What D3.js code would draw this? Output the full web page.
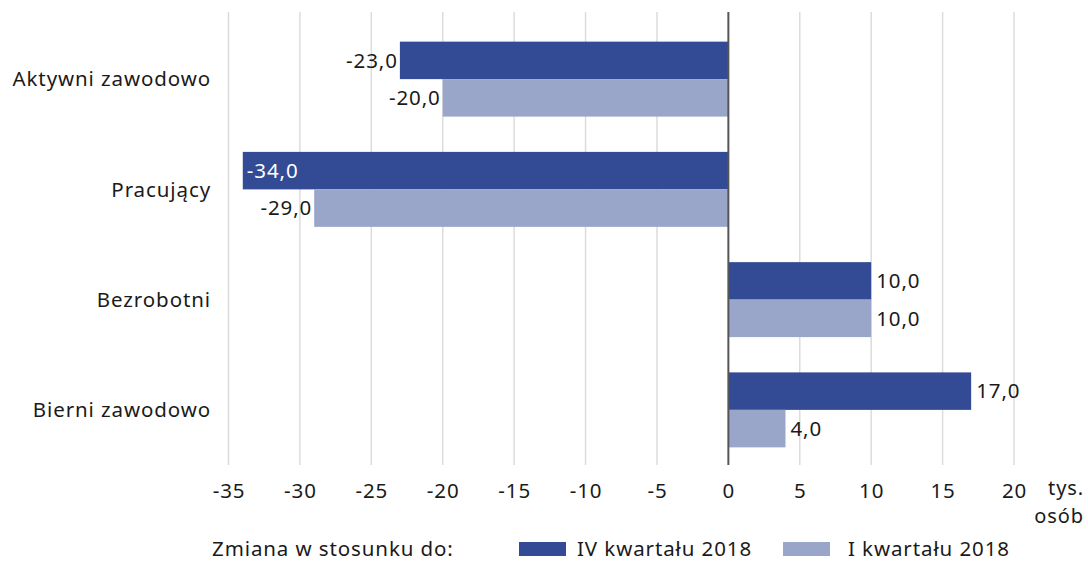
<!DOCTYPE html>
<html>
<head>
<meta charset="utf-8">
<script src="https://cdn.jsdelivr.net/npm/d3@7"></script>
<style>
  body { margin: 0; background: #fff; }
  svg text { font-family: "Noto Sans", "Open Sans", sans-serif; fill: #1a1a1a; letter-spacing: 0.9px; }
</style>
</head>
<body>
<svg id="chart" width="1088" height="561"></svg>
<script>
// chart data
const categories = ['Aktywni zawodowo', 'Pracujący', 'Bezrobotni', 'Bierni zawodowo'];
const seriesNames = ['IV kwartału 2018', 'I kwartału 2018'];
const ivKwartal = [-23.0, -34.0, 10.0, 17.0];
const iKwartal = [-20.0, -29.0, 10.0, 4.0];
const xTicks = [-35, -30, -25, -20, -15, -10, -5, 0, 5, 10, 15, 20];
const colors = ['#334b94', '#99a6ca'];

const svg = d3.select('#chart');
const fontSize = 20.5;

// x scale: -35 .. 20
const x = d3.scaleLinear().domain([-35, 20]).range([228.5, 1014]);

// band per category, inner band per series
const y = d3.scaleBand()
  .domain(categories)
  .range([24, 465])
  .paddingInner(0.32)
  .paddingOuter(0.16);

const y1 = d3.scaleBand()
  .domain(seriesNames)
  .range([0, y.bandwidth()]);

const gridTop = 12, gridBottom = 465;

// vertical grid lines
svg.append('g')
  .selectAll('line')
  .data(xTicks.filter(d => d !== 0))
  .enter()
  .append('line')
  .attr('x1', d => x(d))
  .attr('x2', d => x(d))
  .attr('y1', gridTop)
  .attr('y2', gridBottom)
  .attr('stroke', '#dcdcdc')
  .attr('stroke-width', 1.5);

// tick labels along bottom
const xAxis = svg.append('g')
  .attr('transform', `translate(0, ${gridBottom})`)
  .call(d3.axisBottom(x).tickValues(xTicks).tickSize(0).tickPadding(18)
    .tickFormat(d => String(d).replace('−', '-')));
xAxis.select('.domain').remove();
xAxis.selectAll('text')
  .style('font-size', fontSize + 'px')
  .attr('fill', '#1a1a1a');

// unit label
svg.append('text').attr('x', 1084).attr('y', 495).attr('text-anchor', 'end')
  .style('font-size', '20px').text('tys.');
svg.append('text').attr('x', 1084).attr('y', 523).attr('text-anchor', 'end')
  .style('font-size', '20px').text('osób');

// bars
const rows = categories.map((c, i) => ({
  category: c,
  values: [
    { name: seriesNames[0], value: ivKwartal[i], color: colors[0] },
    { name: seriesNames[1], value: iKwartal[i], color: colors[1] }
  ]
}));

const groups = svg.append('g')
  .selectAll('g')
  .data(rows)
  .enter()
  .append('g')
  .attr('transform', d => `translate(0, ${y(d.category)})`);

groups.selectAll('rect')
  .data(d => d.values)
  .enter()
  .append('rect')
  .attr('x', d => x(Math.min(0, d.value)))
  .attr('y', d => y1(d.name))
  .attr('width', d => Math.abs(x(d.value) - x(0)))
  .attr('height', y1.bandwidth())
  .attr('fill', d => d.color);

// value labels
const fmt = v => v.toFixed(1).replace('.', ',');
groups.selectAll('text.val')
  .data(d => d.values)
  .enter()
  .append('text')
  .attr('class', 'val')
  .style('font-size', fontSize + 'px')
  .attr('dy', '0.35em')
  .attr('y', d => y1(d.name) + y1.bandwidth() / 2)
  .each(function(d) {
    const t = d3.select(this);
    // the longest bar keeps its label inside, in white
    const inside = d.value <= -30;
    if (inside) {
      t.attr('x', x(d.value) + 4).attr('text-anchor', 'start').style('fill', '#fff');
    } else if (d.value < 0) {
      t.attr('x', x(d.value) - 2).attr('text-anchor', 'end');
    } else {
      t.attr('x', x(d.value) + 5).attr('text-anchor', 'start');
    }
  })
  .text(d => fmt(d.value));

// zero line
svg.append('line')
  .attr('x1', x(0)).attr('x2', x(0))
  .attr('y1', gridTop).attr('y2', gridBottom)
  .attr('stroke', '#555')
  .attr('stroke-width', 2);

// category labels
svg.append('g')
  .selectAll('text')
  .data(categories)
  .enter()
  .append('text')
  .attr('x', 211)
  .attr('y', d => y(d) + y.bandwidth() / 2)
  .attr('dy', '0.35em')
  .attr('text-anchor', 'end')
  .style('font-size', fontSize + 'px')
  .text(d => d);

// legend
const legendY = 549;
svg.append('text').attr('x', 212).attr('y', legendY).attr('dy', '0.35em')
  .style('font-size', fontSize + 'px').text('Zmiana w stosunku do:');

const legendX = [519, 783];
seriesNames.forEach((name, i) => {
  svg.append('rect')
    .attr('x', legendX[i]).attr('y', legendY - 7)
    .attr('width', 47).attr('height', 14)
    .attr('fill', colors[i]);
  svg.append('text')
    .attr('x', legendX[i] + (i === 0 ? 58 : 65)).attr('y', legendY).attr('dy', '0.35em')
    .style('font-size', fontSize + 'px').text(name);
});
</script>
</body>
</html>
